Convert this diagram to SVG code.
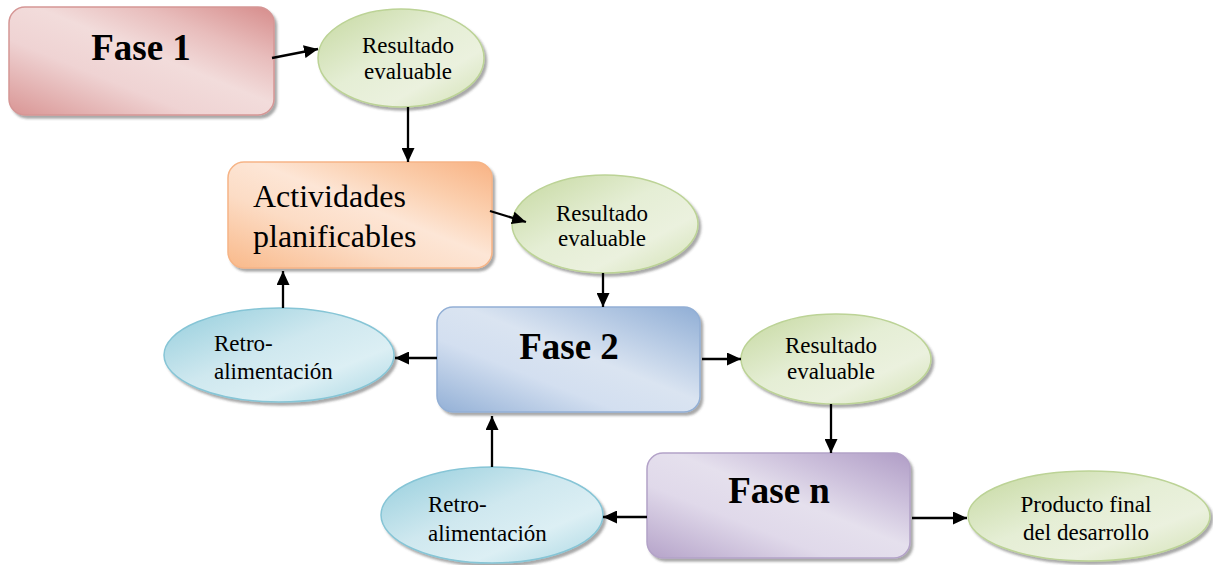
<svg xmlns="http://www.w3.org/2000/svg" width="1213" height="565" viewBox="0 0 1213 565">
  <style>
    .lbl { font-family: "Liberation Serif", "Times New Roman", serif; fill: #000; }
    .big { font-size: 37px; font-weight: bold; text-anchor: middle; }
    .mid { font-size: 32px; }
    .sm { font-size: 23px; }
    .c { text-anchor: middle; }
    .shape { filter: url(#shadow); stroke-width: 1.5; }
    .link { stroke: #000; stroke-width: 2.3; fill: none; marker-end: url(#arrow); }
  </style>
  <defs>
    <filter id="shadow" x="-10%" y="-10%" width="125%" height="130%">
      <feDropShadow dx="2.5" dy="3" stdDeviation="1" flood-color="#404040" flood-opacity="0.45"/>
    </filter>
    <marker id="arrow" markerUnits="userSpaceOnUse" markerWidth="15" markerHeight="13" refX="14" refY="6.5" orient="auto">
      <path d="M0,0 L14,6.5 L0,13 Z" fill="#000"/>
    </marker>
    <linearGradient id="gRed" x1="0" y1="1" x2="1" y2="0">
      <stop offset="0" stop-color="#d99594"/>
      <stop offset="0.35" stop-color="#efd3d3"/>
      <stop offset="0.55" stop-color="#f2dcdb"/>
      <stop offset="0.75" stop-color="#e8bdbc"/>
      <stop offset="1" stop-color="#d68c8b"/>
    </linearGradient>
    <linearGradient id="gOrange" x1="0" y1="1" x2="1" y2="0">
      <stop offset="0" stop-color="#f9b98a"/>
      <stop offset="0.35" stop-color="#fcdcc5"/>
      <stop offset="0.55" stop-color="#fde6d6"/>
      <stop offset="0.75" stop-color="#fbcfae"/>
      <stop offset="1" stop-color="#f8b283"/>
    </linearGradient>
    <linearGradient id="gBlue" x1="0" y1="1" x2="1" y2="0">
      <stop offset="0" stop-color="#93b0d6"/>
      <stop offset="0.35" stop-color="#d3dff0"/>
      <stop offset="0.55" stop-color="#dae4f1"/>
      <stop offset="0.75" stop-color="#b9cce5"/>
      <stop offset="1" stop-color="#90aed5"/>
    </linearGradient>
    <linearGradient id="gPurple" x1="0" y1="1" x2="1" y2="0">
      <stop offset="0" stop-color="#b5a3c9"/>
      <stop offset="0.35" stop-color="#e0d9ea"/>
      <stop offset="0.55" stop-color="#e5e0ed"/>
      <stop offset="0.75" stop-color="#cdc1dc"/>
      <stop offset="1" stop-color="#b09dc6"/>
    </linearGradient>
    <linearGradient id="gGreen" x1="0" y1="0" x2="1" y2="1">
      <stop offset="0" stop-color="#c5d89f"/>
      <stop offset="0.45" stop-color="#e5eed5"/>
      <stop offset="0.7" stop-color="#ebf1de"/>
      <stop offset="1" stop-color="#d2e1b3"/>
    </linearGradient>
    <linearGradient id="gCyan" x1="0" y1="0" x2="1" y2="1">
      <stop offset="0" stop-color="#93cddc"/>
      <stop offset="0.45" stop-color="#cfe8ef"/>
      <stop offset="0.7" stop-color="#dceff4"/>
      <stop offset="1" stop-color="#a9d7e3"/>
    </linearGradient>
  </defs>

  <g id="fase1">
    <rect class="shape" x="9" y="7" width="265" height="108" rx="16" fill="url(#gRed)" stroke="#d59695"/>
    <text class="lbl big" x="141" y="60">Fase 1</text>
  </g>

  <g id="resultado1">
    <ellipse class="shape" cx="401" cy="58" rx="83" ry="49" fill="url(#gGreen)" stroke="#bcd396"/>
    <text class="lbl sm c" x="408" y="53">Resultado</text>
    <text class="lbl sm c" x="408" y="79">evaluable</text>
  </g>

  <g id="actividades">
    <rect class="shape" x="228" y="162" width="264" height="106" rx="16" fill="url(#gOrange)" stroke="#f6b486"/>
    <text class="lbl mid" x="253" y="207">Actividades</text>
    <text class="lbl mid" x="253" y="247">planificables</text>
  </g>

  <g id="resultado2">
    <ellipse class="shape" cx="605" cy="224" rx="93" ry="49" fill="url(#gGreen)" stroke="#bcd396"/>
    <text class="lbl sm c" x="602" y="221">Resultado</text>
    <text class="lbl sm c" x="602" y="246">evaluable</text>
  </g>

  <g id="retro1">
    <ellipse class="shape" cx="279" cy="355" rx="115" ry="47" fill="url(#gCyan)" stroke="#86c5d6"/>
    <text class="lbl sm" x="214" y="351">Retro-</text>
    <text class="lbl sm" x="214" y="379">alimentación</text>
  </g>

  <g id="fase2">
    <rect class="shape" x="437" y="307" width="263" height="105" rx="16" fill="url(#gBlue)" stroke="#92afd5"/>
    <text class="lbl big" x="569" y="359">Fase 2</text>
  </g>

  <g id="resultado3">
    <ellipse class="shape" cx="836" cy="359" rx="95" ry="45" fill="url(#gGreen)" stroke="#bcd396"/>
    <text class="lbl sm c" x="831" y="353">Resultado</text>
    <text class="lbl sm c" x="831" y="379">evaluable</text>
  </g>

  <g id="retro2">
    <ellipse class="shape" cx="492" cy="515" rx="111" ry="48" fill="url(#gCyan)" stroke="#86c5d6"/>
    <text class="lbl sm" x="428" y="512">Retro-</text>
    <text class="lbl sm" x="428" y="541">alimentación</text>
  </g>

  <g id="fasen">
    <rect class="shape" x="647" y="453" width="263" height="105" rx="16" fill="url(#gPurple)" stroke="#b3a2c8"/>
    <text class="lbl big" x="779" y="503">Fase n</text>
  </g>

  <g id="producto">
    <ellipse class="shape" cx="1089" cy="516" rx="121" ry="45" fill="url(#gGreen)" stroke="#bcd396"/>
    <text class="lbl sm c" x="1086" y="512">Producto final</text>
    <text class="lbl sm c" x="1086" y="540">del desarrollo</text>
  </g>

  <!-- connectors, drawn last so the arrowheads stay above the shapes -->
  <g id="connectors">
    <line class="link" x1="272" y1="58" x2="318" y2="49"/>
    <line class="link" x1="408" y1="107" x2="408" y2="162"/>
    <line class="link" x1="490" y1="211" x2="526" y2="222"/>
    <line class="link" x1="603" y1="273" x2="603" y2="307"/>
    <line class="link" x1="437" y1="358" x2="395" y2="358"/>
    <line class="link" x1="283" y1="308" x2="283" y2="271"/>
    <line class="link" x1="702" y1="359" x2="741" y2="359"/>
    <line class="link" x1="831" y1="404" x2="831" y2="453"/>
    <line class="link" x1="492" y1="467" x2="492" y2="416"/>
    <line class="link" x1="647" y1="517" x2="603" y2="517"/>
    <line class="link" x1="912" y1="518" x2="967" y2="518"/>
  </g>
</svg>
